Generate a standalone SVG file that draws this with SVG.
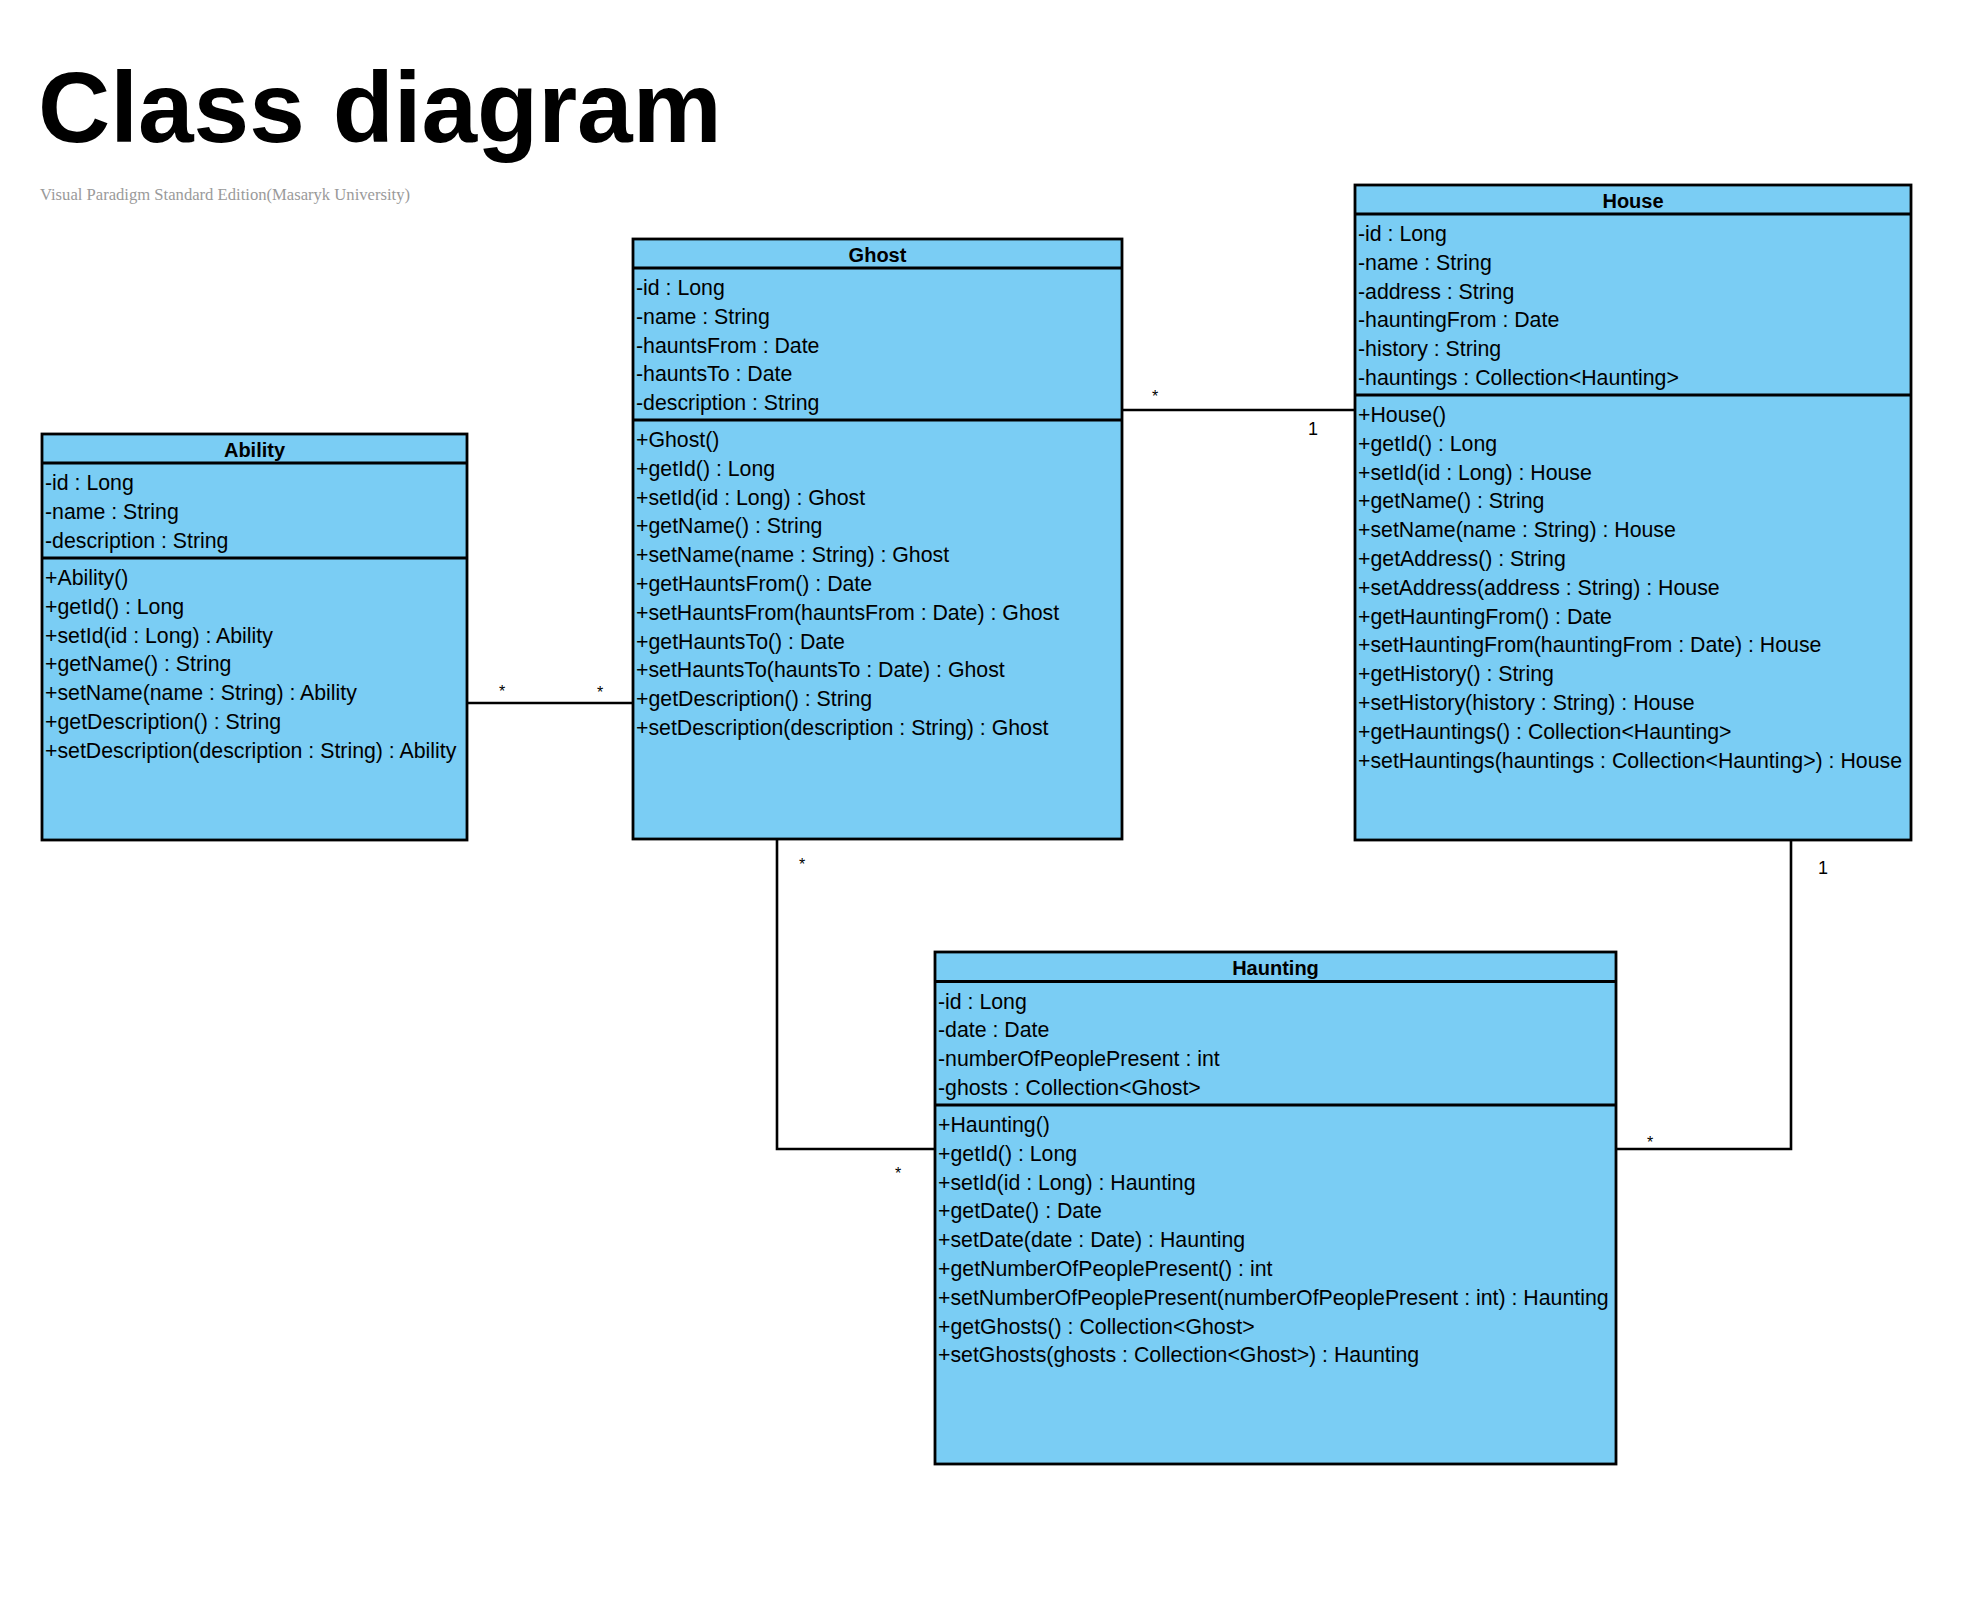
<svg xmlns="http://www.w3.org/2000/svg" width="1961" height="1597" viewBox="0 0 1961 1597">
<style>
.box{fill:#7ACDF4;stroke:#000;stroke-width:2.8}
.sep{stroke:#000;stroke-width:2.8}
.name{font-family:"Liberation Sans",Arial,sans-serif;font-size:20px;font-weight:bold;fill:#000;text-anchor:middle}
.m{font-family:"Liberation Sans",Arial,sans-serif;font-size:21.3px;fill:#000}
.conn{fill:none;stroke:#000;stroke-width:2.6}
.star{font-family:"Liberation Sans",Arial,sans-serif;font-size:16px;fill:#000;text-anchor:middle}
.one{font-family:"Liberation Sans",Arial,sans-serif;font-size:18px;fill:#000;text-anchor:middle}
</style>
<rect width="1961" height="1597" fill="#fff"/>
<g id="title">
<text x="38" y="142" font-family="'Liberation Sans',Arial,sans-serif" font-size="100" font-weight="bold" fill="#000">Class diagram</text>
<text x="40" y="200" font-family="'Liberation Serif','Times New Roman',serif" font-size="17" fill="#9a9a9a" textLength="370" lengthAdjust="spacingAndGlyphs">Visual Paradigm Standard Edition(Masaryk University)</text>
</g>
<g id="connectors">
<line class="conn" x1="467" y1="703" x2="633" y2="703"/>
<line class="conn" x1="1122" y1="410" x2="1355" y2="410"/>
<polyline class="conn" points="777,839 777,1149 935,1149"/>
<polyline class="conn" points="1791,840 1791,1149 1616,1149"/>
<text class="star" x="502" y="697">*</text>
<text class="star" x="600" y="698">*</text>
<text class="star" x="1155" y="402">*</text>
<text class="one" x="1313" y="435">1</text>
<text class="star" x="802" y="870">*</text>
<text class="star" x="898" y="1179">*</text>
<text class="one" x="1823" y="874">1</text>
<text class="star" x="1650" y="1148">*</text>
</g>
<g id="Ability">
<rect class="box" x="42" y="434" width="425" height="406"/>
<line class="sep" x1="42" y1="463" x2="467" y2="463"/>
<line class="sep" x1="42" y1="558" x2="467" y2="558"/>
<text class="name" x="254.5" y="457">Ability</text>
<text class="m" x="45" y="490">-id : Long</text>
<text class="m" x="45" y="518.8">-name : String</text>
<text class="m" x="45" y="547.6">-description : String</text>
<text class="m" x="45" y="585">+Ability()</text>
<text class="m" x="45" y="613.8">+getId() : Long</text>
<text class="m" x="45" y="642.6">+setId(id : Long) : Ability</text>
<text class="m" x="45" y="671.4">+getName() : String</text>
<text class="m" x="45" y="700.2">+setName(name : String) : Ability</text>
<text class="m" x="45" y="729">+getDescription() : String</text>
<text class="m" x="45" y="757.8">+setDescription(description : String) : Ability</text>
</g>
<g id="Ghost">
<rect class="box" x="633" y="239" width="489" height="600"/>
<line class="sep" x1="633" y1="268" x2="1122" y2="268"/>
<line class="sep" x1="633" y1="420" x2="1122" y2="420"/>
<text class="name" x="877.5" y="262">Ghost</text>
<text class="m" x="636" y="295">-id : Long</text>
<text class="m" x="636" y="323.8">-name : String</text>
<text class="m" x="636" y="352.6">-hauntsFrom : Date</text>
<text class="m" x="636" y="381.4">-hauntsTo : Date</text>
<text class="m" x="636" y="410.2">-description : String</text>
<text class="m" x="636" y="447">+Ghost()</text>
<text class="m" x="636" y="475.8">+getId() : Long</text>
<text class="m" x="636" y="504.6">+setId(id : Long) : Ghost</text>
<text class="m" x="636" y="533.4">+getName() : String</text>
<text class="m" x="636" y="562.2">+setName(name : String) : Ghost</text>
<text class="m" x="636" y="591">+getHauntsFrom() : Date</text>
<text class="m" x="636" y="619.8">+setHauntsFrom(hauntsFrom : Date) : Ghost</text>
<text class="m" x="636" y="648.6">+getHauntsTo() : Date</text>
<text class="m" x="636" y="677.4">+setHauntsTo(hauntsTo : Date) : Ghost</text>
<text class="m" x="636" y="706.2">+getDescription() : String</text>
<text class="m" x="636" y="735">+setDescription(description : String) : Ghost</text>
</g>
<g id="House">
<rect class="box" x="1355" y="185" width="556" height="655"/>
<line class="sep" x1="1355" y1="214" x2="1911" y2="214"/>
<line class="sep" x1="1355" y1="395" x2="1911" y2="395"/>
<text class="name" x="1633" y="208">House</text>
<text class="m" x="1358" y="241">-id : Long</text>
<text class="m" x="1358" y="269.8">-name : String</text>
<text class="m" x="1358" y="298.6">-address : String</text>
<text class="m" x="1358" y="327.4">-hauntingFrom : Date</text>
<text class="m" x="1358" y="356.2">-history : String</text>
<text class="m" x="1358" y="385">-hauntings : Collection&lt;Haunting&gt;</text>
<text class="m" x="1358" y="422">+House()</text>
<text class="m" x="1358" y="450.8">+getId() : Long</text>
<text class="m" x="1358" y="479.6">+setId(id : Long) : House</text>
<text class="m" x="1358" y="508.4">+getName() : String</text>
<text class="m" x="1358" y="537.2">+setName(name : String) : House</text>
<text class="m" x="1358" y="566">+getAddress() : String</text>
<text class="m" x="1358" y="594.8">+setAddress(address : String) : House</text>
<text class="m" x="1358" y="623.6">+getHauntingFrom() : Date</text>
<text class="m" x="1358" y="652.4">+setHauntingFrom(hauntingFrom : Date) : House</text>
<text class="m" x="1358" y="681.2">+getHistory() : String</text>
<text class="m" x="1358" y="710">+setHistory(history : String) : House</text>
<text class="m" x="1358" y="738.8">+getHauntings() : Collection&lt;Haunting&gt;</text>
<text class="m" x="1358" y="767.6">+setHauntings(hauntings : Collection&lt;Haunting&gt;) : House</text>
</g>
<g id="Haunting">
<rect class="box" x="935" y="952" width="681" height="512"/>
<line class="sep" x1="935" y1="981.5" x2="1616" y2="981.5"/>
<line class="sep" x1="935" y1="1105" x2="1616" y2="1105"/>
<text class="name" x="1275.5" y="975">Haunting</text>
<text class="m" x="938" y="1008.5">-id : Long</text>
<text class="m" x="938" y="1037.3">-date : Date</text>
<text class="m" x="938" y="1066.1">-numberOfPeoplePresent : int</text>
<text class="m" x="938" y="1094.9">-ghosts : Collection&lt;Ghost&gt;</text>
<text class="m" x="938" y="1132">+Haunting()</text>
<text class="m" x="938" y="1160.8">+getId() : Long</text>
<text class="m" x="938" y="1189.6">+setId(id : Long) : Haunting</text>
<text class="m" x="938" y="1218.4">+getDate() : Date</text>
<text class="m" x="938" y="1247.2">+setDate(date : Date) : Haunting</text>
<text class="m" x="938" y="1276">+getNumberOfPeoplePresent() : int</text>
<text class="m" x="938" y="1304.8">+setNumberOfPeoplePresent(numberOfPeoplePresent : int) : Haunting</text>
<text class="m" x="938" y="1333.6">+getGhosts() : Collection&lt;Ghost&gt;</text>
<text class="m" x="938" y="1362.4">+setGhosts(ghosts : Collection&lt;Ghost&gt;) : Haunting</text>
</g>
</svg>
